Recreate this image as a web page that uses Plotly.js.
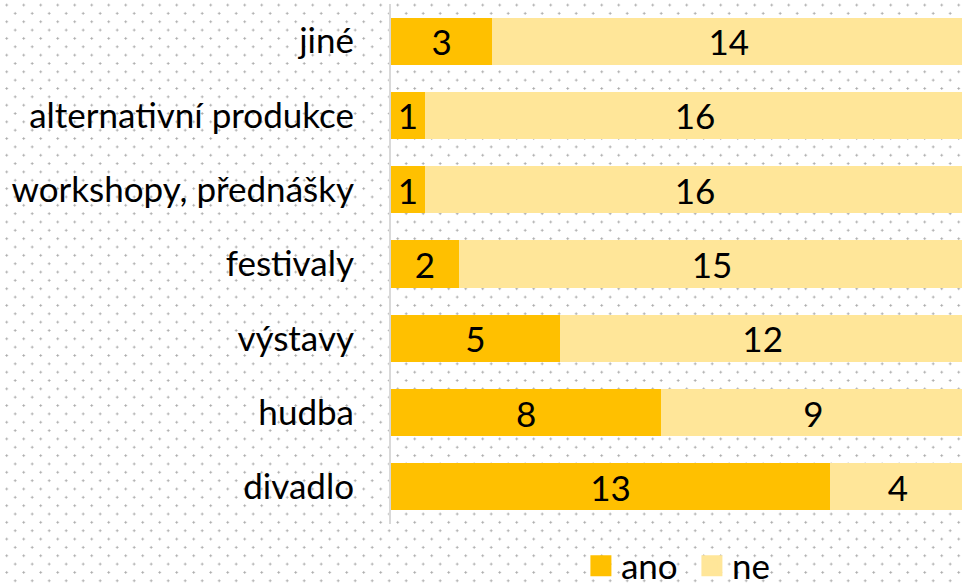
<!DOCTYPE html>
<html>
<head>
<meta charset="utf-8">
<script src="https://cdn.plot.ly/plotly-3.0.1.min.js"></script>
<style>
html, body { margin:0; padding:0; width:962px; height:585px; overflow:hidden; background:#fff; }
body {
  background-image:
    radial-gradient(circle, #a8a8a8 0.9px, rgba(255,255,255,0) 1.3px),
    radial-gradient(circle, #a8a8a8 0.9px, rgba(255,255,255,0) 1.3px);
  background-size: 17px 16.7px, 17px 16.7px;
  background-position: -1.8px -3.3px, 6.7px 5.05px;
}
#chart { width:962px; height:585px; }
</style>
</head>
<body>
<div id="chart"></div>
<script>
const categories = ["jiné", "alternativní produkce", "workshopy, přednášky", "festivaly", "výstavy", "hudba", "divadlo"];
const anoValues = [3, 1, 1, 2, 5, 8, 13];
const neValues = [14, 16, 16, 15, 12, 9, 4];
const seriesNames = ["ano", "ne"];
const seriesColors = ["#FFC000", "#FFE699"];

const FONT = "Lato, 'Open Sans', sans-serif";
const FS = 35;

function barTrace(i, vals) {
  return {
    type: "bar", orientation: "h", name: seriesNames[i], showlegend: false,
    y: categories, x: vals, text: vals.map(String),
    textposition: "inside", insidetextanchor: "middle", constraintext: "none", textangle: 0,
    textfont: {color: "#000", size: FS, family: FONT},
    marker: {color: seriesColors[i]}, hoverinfo: "none"
  };
}
function legendTrace(i) {
  return {
    type: "scatter", mode: "markers", name: seriesNames[i], x: [null], y: [null],
    marker: {symbol: "square", size: 16, color: seriesColors[i], line: {width: 5, color: seriesColors[i]}},
    hoverinfo: "none"
  };
}

const traces = [barTrace(0, anoValues), barTrace(1, neValues), legendTrace(0), legendTrace(1)];

const layout = {
  width: 962, height: 585,
  paper_bgcolor: "rgba(0,0,0,0)", plot_bgcolor: "rgba(0,0,0,0)",
  barmode: "stack", bargap: 0.367,
  margin: {l: 391, r: 0, t: 4, b: 61, pad: 0, autoexpand: false},
  font: {family: FONT, size: FS, color: "#000"},
  xaxis: {range: [0, 16.9], showgrid: false, zeroline: false, showticklabels: false, showline: false, fixedrange: true},
  yaxis: {autorange: "reversed", showgrid: false, zeroline: false, showline: true,
          linecolor: "#d9d9d9", linewidth: 2, ticks: "", ticklabelstandoff: 28,
          tickfont: {family: FONT, size: FS, color: "#000"}},
  showlegend: true,
  legend: {orientation: "h", x: 0.527, xanchor: "center", y: -0.024, yanchor: "top",
           font: {family: FONT, size: FS, color: "#000"}, bgcolor: "rgba(0,0,0,0)",
           traceorder: "normal", itemwidth: 30, entrywidth: 66}
};

Plotly.newPlot("chart", traces, layout, {displayModeBar: false, staticPlot: true});
</script>
</body>
</html>
